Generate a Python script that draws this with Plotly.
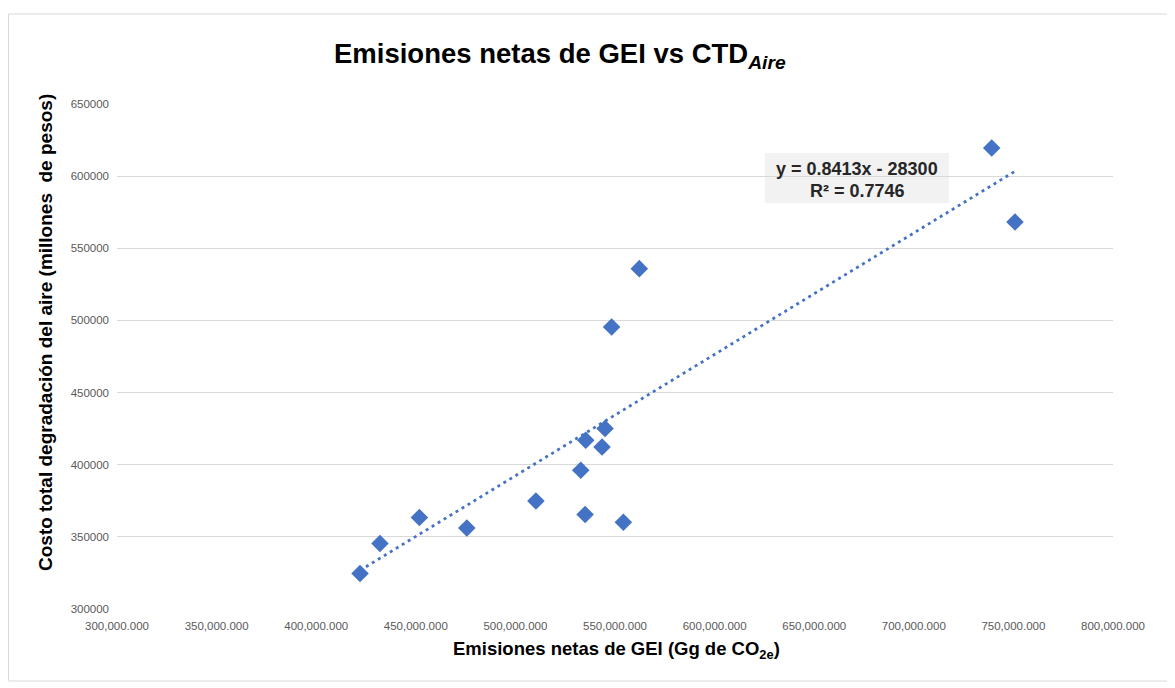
import plotly.graph_objects as go

# Data
emisiones = [422000, 432000, 451800, 475600, 510300, 532800, 535300, 535000,
             543500, 545000, 554200, 548300, 562200, 739100, 750800]
costo = [324600, 345400, 363400, 356200, 374900, 396200, 417000, 365500,
         412300, 425100, 360100, 495500, 535900, 619500, 568200]

# Trendline as displayed in the chart
slope = 0.8413
intercept = -28300
r2 = 0.7746

x_ticks = [300000, 350000, 400000, 450000, 500000, 550000, 600000, 650000, 700000, 750000, 800000]
y_ticks = [300000, 350000, 400000, 450000, 500000, 550000, 600000, 650000]

# page has an 8px body margin; work in page-pixel coordinates
OFF = 8
W, H = 1175 - OFF, 688 - OFF
PL, PR, PT, PB = 117, 1113, 104, 609  # plot area in page pixels
L = PL - OFF
T = PT - OFF
R = W - (PR - OFF)
B = H - (PB - OFF)
PW = PR - PL
PH = PB - PT

def px(x):
    return (x - PL) / PW

def py(y):
    return (PB - y) / PH

FONT = "Liberation Sans, Arial, sans-serif"
BLUE = "#4472C4"

x_min, x_max = min(emisiones), max(emisiones)
trend_x = [x_min, x_max]
trend_y = [slope * v + intercept for v in trend_x]

fig = go.Figure()
fig.add_trace(go.Scatter(
    x=trend_x, y=trend_y, mode="lines",
    line=dict(color=BLUE, width=2.75, dash="3px,4px"),
    hoverinfo="skip", showlegend=False,
))
fig.add_trace(go.Scatter(
    x=emisiones, y=costo, mode="markers",
    marker=dict(symbol="diamond", size=13.5, color=BLUE, line=dict(width=0)),
    showlegend=False,
))

fig.update_layout(
    width=W, height=H,
    margin=dict(l=L, r=R, t=T, b=B, pad=0),
    paper_bgcolor="white", plot_bgcolor="white",
    font=dict(family=FONT, color="#595959", size=11.5),
    showlegend=False,
    xaxis=dict(
        range=[300000, 800000], tickvals=x_ticks, tickformat=",.3f",
        showgrid=False, zeroline=False, showline=False,
        ticks="", ticklen=0, ticklabelstandoff=8,
        tickfont=dict(family=FONT, size=11.5, color="#595959"),
    ),
    yaxis=dict(
        range=[300000, 650000], tickvals=y_ticks, tickformat="d",
        showgrid=True, gridcolor="#D9D9D9", gridwidth=1,
        zeroline=False, showline=False, ticks="", ticklabelstandoff=7,
        tickfont=dict(family=FONT, size=11.5, color="#595959"),
    ),
    shapes=[
        dict(type="rect", xref="paper", yref="paper",
             x0=px(8.5), x1=px(1168), y0=py(681), y1=py(14),
             line=dict(color="#D9D9D9", width=1), fillcolor="rgba(0,0,0,0)",
             layer="below"),
        dict(type="rect", xref="paper", yref="paper",
             x0=px(765), x1=px(949), y0=py(203), y1=py(153),
             line=dict(width=0), fillcolor="#F2F2F2", layer="below"),
    ],
    annotations=[
        dict(text="<b>Emisiones netas de GEI vs CTD<sub><i>Aire</i></sub></b>",
             xref="paper", yref="paper", x=px(560), y=py(56),
             xanchor="center", yanchor="middle", showarrow=False,
             font=dict(family=FONT, size=27.5, color="black")),
        dict(text="<b>Costo total degradación del aire (millones&nbsp; de pesos)</b>",
             xref="paper", yref="paper", x=px(45), y=py(333), textangle=-90,
             xanchor="center", yanchor="middle", showarrow=False,
             font=dict(family=FONT, size=19, color="black")),
        dict(text="<b>Emisiones netas de GEI (Gg de CO<sub>2e</sub>)</b>",
             xref="paper", yref="paper", x=px(616), y=py(650),
             xanchor="center", yanchor="middle", showarrow=False,
             font=dict(family=FONT, size=18.5, color="black")),
        dict(text=f"<b>y = {slope}x - {abs(intercept)}</b>",
             xref="paper", yref="paper", x=px(857), y=py(169),
             xanchor="center", yanchor="middle", showarrow=False,
             font=dict(family=FONT, size=18, color="#262626")),
        dict(text=f"<b>R² = {r2}</b>",
             xref="paper", yref="paper", x=px(857), y=py(191),
             xanchor="center", yanchor="middle", showarrow=False,
             font=dict(family=FONT, size=18, color="#262626")),
    ],
)

fig.write_html("out.html")
